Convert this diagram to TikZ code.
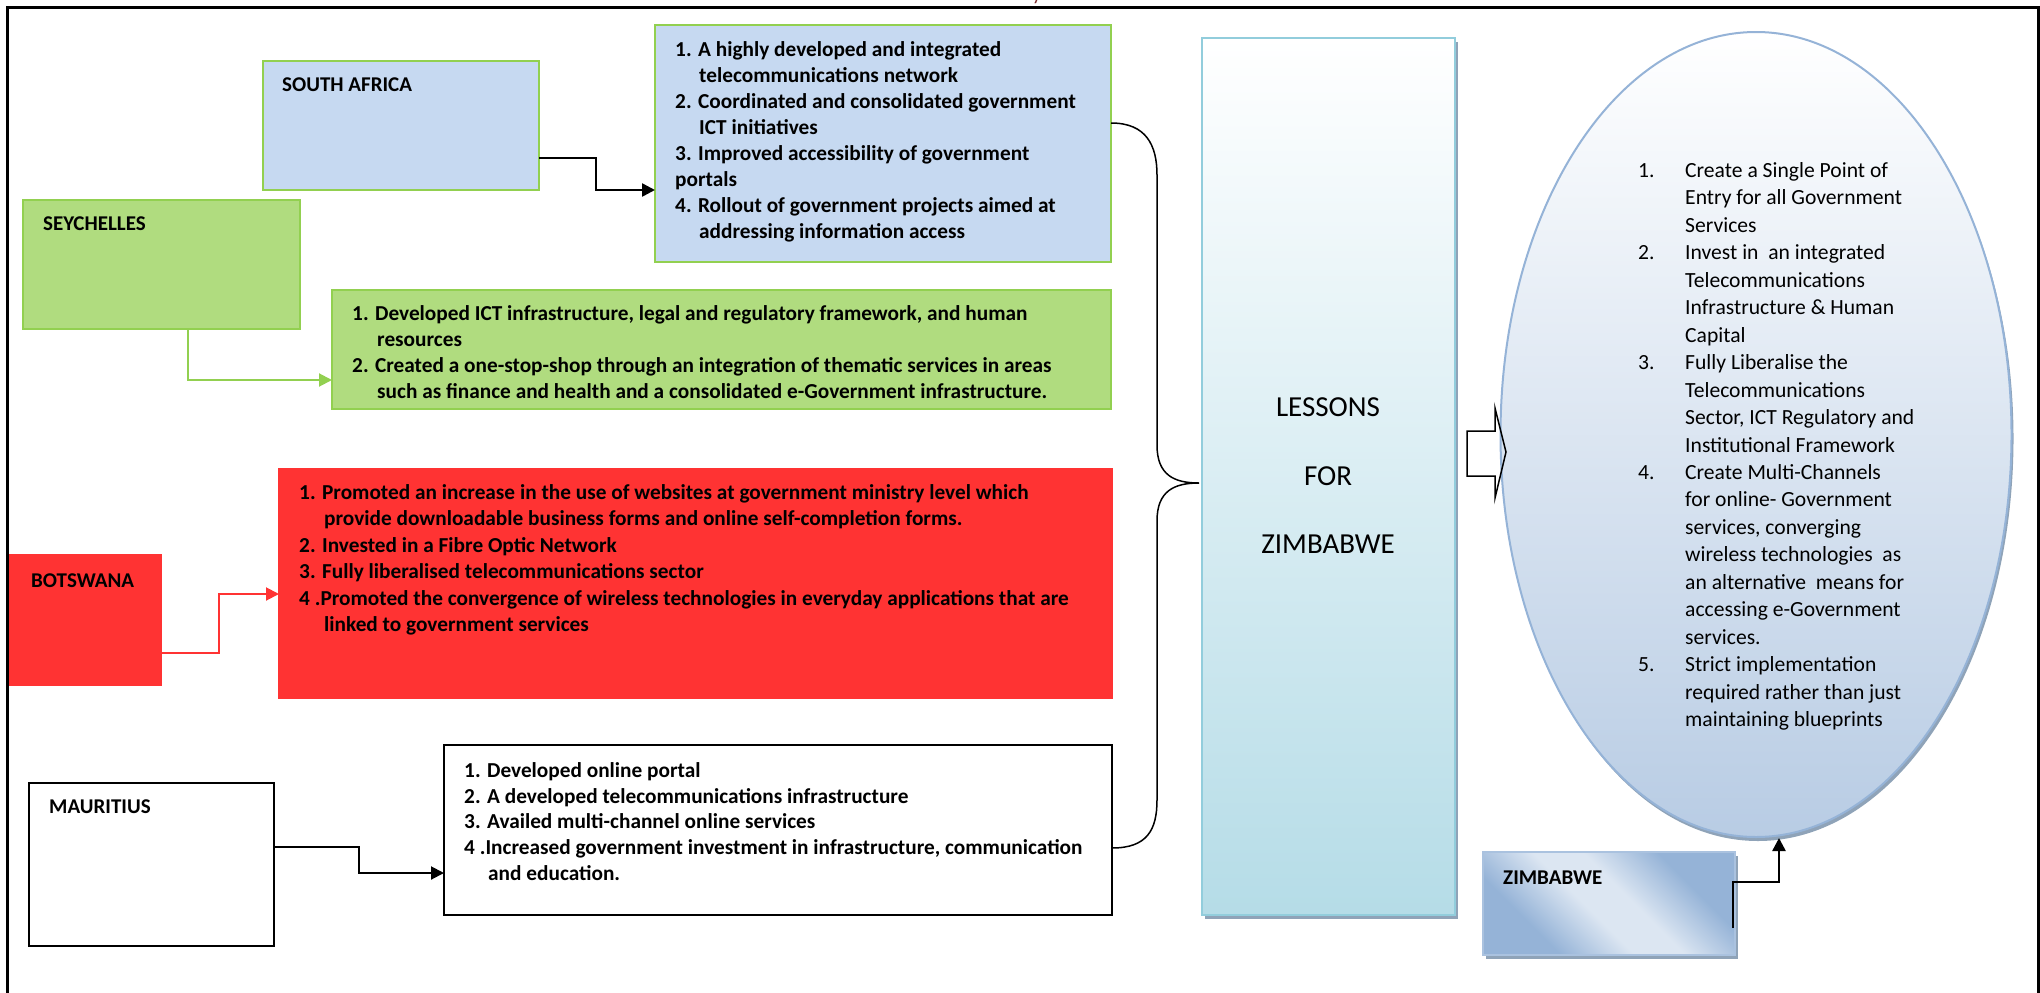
\documentclass[tikz,border=0pt]{standalone}
\usepackage{fontspec}
\setmainfont{Carlito}
\usetikzlibrary{arrows.meta,shapes.geometric,shadows}
\definecolor{saBlue}{HTML}{C6D9F1}
\definecolor{lgreen}{HTML}{92D050}
\definecolor{seyGreen}{HTML}{B0DC7F}
\definecolor{botRed}{HTML}{FF3333}
\definecolor{lesBorder}{HTML}{92CDDC}
\definecolor{lesBot}{HTML}{B5DCE7}
\definecolor{ellBorder}{HTML}{95B3D7}
\definecolor{ellBot}{HTML}{B8CCE4}
\definecolor{zimDark}{HTML}{95B3D7}
\definecolor{zimLight}{HTML}{DCE6F2}
\definecolor{shadowc}{HTML}{8FA3B8}
\definecolor{capred}{HTML}{7B2C2C}
\pgfdeclarehorizontalshading{zimsh}{100bp}{color(0bp)=(zimDark); color(30bp)=(zimDark); color(45bp)=(zimLight); color(55bp)=(zimLight); color(70bp)=(zimDark); color(100bp)=(zimDark)}
\tikzset{
  box/.style={rectangle, inner sep=0pt, outer sep=0pt, line width=1.5pt},
  label/.style={anchor=base west, inner sep=0pt, font=\bfseries\fontsize{21}{25}\selectfont},
  listtxt/.style={anchor=base west, inner sep=0pt, align=left},
  arr/.style={line width=2.5pt, -{Triangle[length=13pt,width=13pt]}},
  brace/.style={line width=1.5pt},
  bigtxt/.style={anchor=base, inner sep=0pt, font=\fontsize{29}{34}\selectfont}
}
\newcommand{\ind}{\hspace*{24pt}}
\begin{document}
\begin{tikzpicture}[x=1pt,y=-1pt]
\useasboundingbox (0,0) rectangle (2040,993);
% frame
\draw[line width=3pt] (7,993) -- (7,7) -- (2038,7) -- (2038,993);
\node[anchor=base, inner sep=0pt, text=capred, font=\fontsize{20}{24}\selectfont] (ycap) at (1037,1) {y};

% South Africa
\node[box, draw=lgreen, fill=saBlue, minimum width=276pt, minimum height=129pt] (sa) at (401,125.5) {};
\node[label] (salab) at (282,91.5) {SOUTH AFRICA};
\node[box, draw=lgreen, fill=saBlue, minimum width=456pt, minimum height=237pt] (salist) at (883,143.5) {};
\node[listtxt, font=\bfseries\fontsize{21.3}{26.1}\selectfont] (satxt) at (675,56) {\begin{tabular}[t]{@{}l@{}}
1. A highly developed and integrated\\
\ind telecommunications network\\
2. Coordinated and consolidated government\\
\ind ICT initiatives\\
3. Improved accessibility of government\\
portals\\
4. Rollout of government projects aimed at\\
\ind addressing information access
\end{tabular}};

% Seychelles
\node[box, draw=lgreen, fill=seyGreen, minimum width=277pt, minimum height=129pt] (sey) at (161.5,264.5) {};
\node[label] (seylab) at (43,230.5) {SEYCHELLES};
\node[box, draw=lgreen, fill=seyGreen, minimum width=779pt, minimum height=119pt] (seylist) at (721.5,349.5) {};
\node[listtxt, font=\bfseries\fontsize{21.3}{25.9}\selectfont] (seytxt) at (352,320.5) {\begin{tabular}[t]{@{}l@{}}
1. Developed ICT infrastructure, legal and regulatory framework, and human\\
\hspace*{25pt}resources\\
2. Created a one-stop-shop through an integration of thematic services in areas\\
\hspace*{25pt}such as finance and health and a consolidated e-Government infrastructure.
\end{tabular}};

% Botswana
\node[box, draw=botRed, fill=botRed, minimum width=151pt, minimum height=130pt] (bots) at (85.5,620) {};
\node[label] (botslab) at (31,587.5) {BOTSWANA};
\node[box, draw=botRed, fill=botRed, minimum width=833pt, minimum height=229pt] (botslist) at (695.5,583.5) {};
\node[listtxt, font=\bfseries\fontsize{21.3}{26.4}\selectfont] (botstxt) at (299,499.5) {\begin{tabular}[t]{@{}l@{}}
1. Promoted an increase in the use of websites at government ministry level which\\
\hspace*{25pt}provide downloadable business forms and online self-completion forms.\\
2. Invested in a Fibre Optic Network\\
3. Fully liberalised telecommunications sector\\
4 .Promoted the convergence of wireless technologies in everyday applications that are\\
\hspace*{25pt}linked to government services
\end{tabular}};

% Mauritius
\node[box, draw=black, line width=1.2pt, fill=white, minimum width=245pt, minimum height=163pt] (maur) at (151.5,864.5) {};
\node[label] (maurlab) at (49,813.5) {MAURITIUS};
\node[box, draw=black, line width=1.2pt, fill=white, minimum width=668pt, minimum height=170pt] (maurlist) at (778,830) {};
\node[listtxt, font=\bfseries\fontsize{21.3}{25.7}\selectfont] (maurtxt) at (464,777.5) {\begin{tabular}[t]{@{}l@{}}
1. Developed online portal\\
2. A developed telecommunications infrastructure\\
3. Availed multi-channel online services\\
4 .Increased government investment in infrastructure, communication\\
\ind and education.
\end{tabular}};

% connectors left
\draw[arr] ([yshift=32pt]sa.south east) -- ++(57,0) |- ([yshift=72pt]salist.south west);
\draw[arr, draw=lgreen, line width=2pt] ([xshift=34pt]sey.south west) -- ([xshift=165pt]sey.south west) |- ([yshift=29pt]seylist.south west);
\draw[arr, draw=botRed, line width=2pt] ([yshift=32pt]bots.south east) -- ++(58,0) |- ([yshift=-125pt]botslist.north west);
\draw[arr, line width=2pt] ([yshift=-64pt]maur.north east) -- ++(85,0) |- ([yshift=-128pt]maurlist.north west);

% Lessons box
\node[box, draw=lesBorder, line width=2pt, top color=white, bottom color=lesBot,
  drop shadow={shadow xshift=3pt, shadow yshift=-4pt, fill=shadowc, opacity=1},
  minimum width=253pt, minimum height=877pt] (lessons) at (1328.5,476.5) {};
\node[bigtxt] (l1) at (1328,416.5) {LESSONS};
\node[bigtxt] (l2) at (1328,485.5) {FOR};
\node[bigtxt] (l3) at (1328,553.5) {ZIMBABWE};

% brace
\draw[brace] ([yshift=-98pt]salist.north east) .. controls +(35,0) and +(0,-30) .. (1157,175)
  -- (1157,445) .. controls +(0,30) and +(-25,0) .. ([shift={(-3,6.5)}]lessons.west)
  .. controls +(-25,0) and +(0,-30) .. (1157,521)
  -- (1157,800) .. controls +(0,30) and +(35,0) .. ([yshift=-103pt]maurlist.north east);

% Ellipse
\node[ellipse, draw=ellBorder, line width=2pt, inner sep=0pt, top color=white, bottom color=ellBot,
  drop shadow={shadow xshift=2pt, shadow yshift=-4pt, fill=shadowc, opacity=1},
  minimum width=511pt, minimum height=805pt] (ell) at (1756,434.5) {};
\node[listtxt, font=\fontsize{21.6}{27.45}\selectfont] (elltxt) at (1638,177.5) {\begin{tabular}[t]{@{}p{47pt}@{}l@{}}
1. & Create a Single Point of\\
 & Entry for all Government\\
 & Services\\
2. & Invest in \ an integrated\\
 & Telecommunications\\
 & Infrastructure \& Human\\
 & Capital\\
3. & Fully Liberalise the\\
 & Telecommunications\\
 & Sector, ICT Regulatory and\\
 & Institutional Framework\\
4. & Create Multi-Channels\\
 & for online- Government\\
 & services, converging\\
 & wireless technologies \ as\\
 & an alternative \ means for\\
 & accessing e-Government\\
 & services.\\
5. & Strict implementation\\
 & required rather than just\\
 & maintaining blueprints
\end{tabular}};

% block arrow
\draw[line width=1.5pt, line join=miter] (1467,431) -- (1495,431) -- (1495,408) -- (1506,452) -- (1495,498) -- (1495,476) -- (1467,476) -- cycle;

% Zimbabwe box
\node[box, draw=zimDark!80, line width=1.5pt, shading=zimsh, shading angle=45,
  drop shadow={shadow xshift=3pt, shadow yshift=-4pt, fill=shadowc, opacity=1},
  minimum width=252pt, minimum height=103pt] (zim) at (1609,903.5) {};
\node[label] (zimlab) at (1503,884.5) {ZIMBABWE};
\draw[arr, line width=2.5pt] ([shift={(-2,-27)}]zim.south east) -- ++(0,-46) -| ([xshift=23pt]ell.south);
\end{tikzpicture}
\end{document}
